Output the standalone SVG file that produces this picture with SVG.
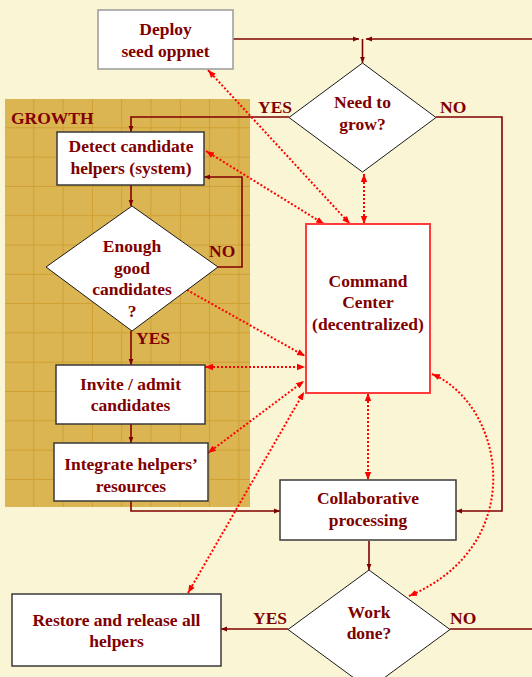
<svg xmlns="http://www.w3.org/2000/svg" width="532" height="677" viewBox="0 0 532 677">
<defs>
<style>
.t{font-family:"Liberation Serif","Times New Roman",serif;font-weight:bold;font-size:17.5px;fill:#800000;text-anchor:middle}
.lbl{font-family:"Liberation Serif","Times New Roman",serif;font-weight:bold;font-size:17.5px;fill:#800000}
.box{fill:#fff;stroke:#3a3a3a;stroke-width:1.5}
.dia{fill:#fff;stroke:#1a1a1a;stroke-width:1}
.flow{fill:none;stroke:#800000;stroke-width:1.6}
.dot{fill:none;stroke:#ff0000;stroke-width:2;stroke-dasharray:2 2}
</style>
<marker id="ah" viewBox="0 0 10 10" refX="10" refY="5" markerWidth="6" markerHeight="6" markerUnits="userSpaceOnUse" orient="auto-start-reverse"><path d="M0,1 L10,5 L0,9z" fill="#800000"/></marker>
<marker id="rh" viewBox="0 0 10 10" refX="10" refY="5" markerWidth="8" markerHeight="8" markerUnits="userSpaceOnUse" orient="auto-start-reverse"><path d="M0,1 L10,5 L0,9z" fill="#ff0000"/></marker>
<pattern id="grid" x="5" y="99" width="29.3" height="29.3" patternUnits="userSpaceOnUse">
<rect width="29.3" height="29.3" fill="#dcb553"/>
<rect x="28.3" y="0" width="1.4" height="29.3" fill="#cfa032"/>
<rect x="0" y="28.3" width="29.3" height="1.4" fill="#cfa032"/>
</pattern>
</defs>
<rect width="532" height="677" fill="#faf5d4"/>
<g id="growth">
<rect x="5" y="99" width="245" height="408" fill="url(#grid)"/>
<text class="lbl" x="11" y="124">GROWTH</text>
</g>
<g id="connectors">
<path class="flow" d="M233,39 H359" marker-end="url(#ah)"/>
<path class="flow" d="M532,39 H366" marker-end="url(#ah)"/>
<path class="flow" d="M362.5,39 V63" marker-end="url(#ah)"/>
<path class="flow" d="M289,117 H131 V132" marker-end="url(#ah)"/>
<path class="flow" d="M436,117 H502 V511 H456" marker-end="url(#ah)"/>
<path class="flow" d="M131,185 V206" marker-end="url(#ah)"/>
<path class="flow" d="M218,267 H242 V177 H204" marker-end="url(#ah)"/>
<path class="flow" d="M131,331 V365" marker-end="url(#ah)"/>
<path class="flow" d="M131,424 V443" marker-end="url(#ah)"/>
<path class="flow" d="M131,501 V511 H280" marker-end="url(#ah)"/>
<path class="flow" d="M369,541 V570" marker-end="url(#ah)"/>
<path class="flow" d="M288,629 H221" marker-end="url(#ah)"/>
<path class="flow" d="M450,629 H532"/>
<path class="dot" d="M208,70 L350,224" marker-start="url(#rh)" marker-end="url(#rh)"/>
<path class="dot" d="M206,151 L324,224" marker-start="url(#rh)" marker-end="url(#rh)"/>
<path class="dot" d="M364,174 V224" marker-start="url(#rh)" marker-end="url(#rh)"/>
<path class="dot" d="M187,290 L305,356" marker-end="url(#rh)"/>
<path class="dot" d="M205,367 H305" marker-start="url(#rh)" marker-end="url(#rh)"/>
<path class="dot" d="M208,453 L304,381" marker-start="url(#rh)" marker-end="url(#rh)"/>
<path class="dot" d="M188,593 L304,392" marker-start="url(#rh)" marker-end="url(#rh)"/>
<path class="dot" d="M368,393 V480" marker-start="url(#rh)" marker-end="url(#rh)"/>
<path class="dot" d="M432,374 C505,405 530,545 409,596" marker-start="url(#rh)" marker-end="url(#rh)"/>
<text class="lbl" x="258" y="113">YES</text>
<text class="lbl" x="440" y="113">NO</text>
<text class="lbl" x="209" y="257">NO</text>
<text class="lbl" x="136" y="344">YES</text>
<text class="lbl" x="253" y="624">YES</text>
<text class="lbl" x="450" y="624">NO</text>
</g>
<g id="deploy">
<rect x="98" y="10" width="135" height="59" fill="#fff" stroke="#9a9a9a" stroke-width="1.5"/>
<text class="t" x="165.5" y="35">Deploy</text>
<text class="t" x="165.5" y="57">seed oppnet</text>
</g>
<g id="need-to-grow">
<path class="dia" d="M362.5,63 L436,117.5 L362.5,172 L289,117.5Z"/>
<text class="t" x="362.5" y="108">Need to</text>
<text class="t" x="362.5" y="130">grow?</text>
</g>
<g id="detect">
<rect class="box" x="57" y="132" width="147" height="53"/>
<text class="t" x="131" y="152">Detect candidate</text>
<text class="t" x="131" y="174">helpers (system)</text>
</g>
<g id="enough">
<path class="dia" d="M132,206 L218,267 L132,331 L46,267Z"/>
<text class="t" x="132" y="252">Enough</text>
<text class="t" x="132" y="274">good</text>
<text class="t" x="132" y="295">candidates</text>
<text class="t" x="132" y="317">?</text>
</g>
<g id="invite">
<rect class="box" x="56" y="365" width="149" height="59"/>
<text class="t" x="130.5" y="390">Invite / admit</text>
<text class="t" x="130.5" y="411">candidates</text>
</g>
<g id="integrate">
<rect class="box" x="54" y="443" width="154" height="58"/>
<text class="t" x="131" y="470">Integrate helpers’</text>
<text class="t" x="131" y="492">resources</text>
</g>
<g id="command-center">
<rect x="306" y="224" width="124" height="169" fill="#fff" stroke="#ff3b3b" stroke-width="2"/>
<text class="t" x="368" y="287">Command</text>
<text class="t" x="368" y="308">Center</text>
<text class="t" x="368" y="330">(decentralized)</text>
</g>
<g id="collaborative">
<rect class="box" x="280" y="480" width="176" height="60"/>
<text class="t" x="368" y="504">Collaborative</text>
<text class="t" x="368" y="526">processing</text>
</g>
<g id="work-done">
<path class="dia" d="M369,570 L450,629.5 L369,689 L288,629.5Z"/>
<text class="t" x="369" y="618">Work</text>
<text class="t" x="369" y="639">done?</text>
</g>
<g id="restore">
<rect class="box" x="12" y="594" width="209" height="72"/>
<text class="t" x="116.5" y="626">Restore and release all</text>
<text class="t" x="116.5" y="647">helpers</text>
</g>
</svg>
